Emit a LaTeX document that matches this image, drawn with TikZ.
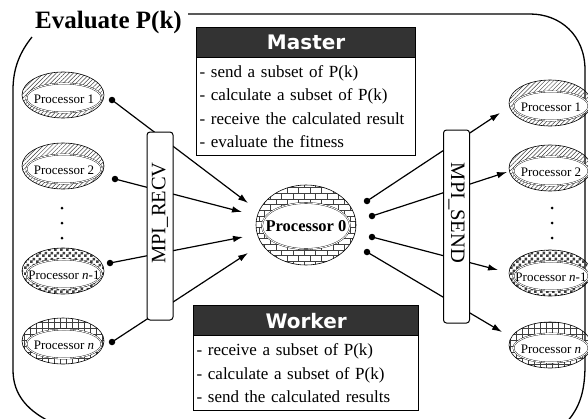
\documentclass[tikz,border=0pt]{standalone}
\usepackage{fontspec}
\setmainfont{Liberation Serif}
\newfontfamily\hdrfont{DejaVu Sans}
\usetikzlibrary{shapes.geometric,patterns,patterns.meta,arrows.meta}
\pgfdeclarepatternformonly{smallchecks}{\pgfpointorigin}{\pgfqpoint{6pt}{6pt}}{\pgfqpoint{6pt}{6pt}}{%
  \pgfpathrectangle{\pgfpointorigin}{\pgfqpoint{3pt}{3pt}}%
  \pgfpathrectangle{\pgfqpoint{3pt}{3pt}}{\pgfqpoint{3pt}{3pt}}%
  \pgfusepath{fill}}
\begin{document}
\begin{tikzpicture}[x=1pt,y=-1pt,
  frameline/.style={line width=1.3pt},
  outerring/.style={ellipse,draw,line width=0.6pt,inner sep=0pt,minimum width=82pt,minimum height=46pt,pattern color=black!75},
  innerring/.style={ellipse,fill=white,draw,line width=0.35pt,double,double distance=0.9pt,inner sep=0pt,minimum width=75pt,minimum height=29pt},
  proclabel/.style={inner sep=0pt,font=\fontsize{13}{13}\selectfont},
  diag/.style={pattern={Lines[angle=45,distance=3pt,line width=0.5pt]}},
  checks/.style={pattern=smallchecks},
  gridpat/.style={preaction={pattern={Lines[angle=90,distance=6pt,line width=0.5pt]},pattern color=black!75},pattern={Lines[angle=0,distance=6pt,line width=0.5pt]}},
  hdr/.style={draw,line width=1.2pt,fill=black!80,text=white,font=\hdrfont\bfseries\fontsize{20}{20}\selectfont,inner sep=0pt,minimum height=30pt},
  body/.style={draw,line width=1.2pt,fill=white,align=left,inner xsep=3pt,inner ysep=0pt,font=\fontsize{17}{23.5}\selectfont},
  mpibox/.style={draw,line width=1pt,fill=white,rounded corners=3pt,inner sep=0pt,minimum width=26pt,minimum height=190pt},
  mpitext/.style={font=\fontsize{20.5}{20.5}\selectfont,inner sep=0pt},
  dotnode/.style={circle,fill=black,inner sep=0pt,minimum size=6.5pt},
  vdot/.style={circle,fill=black,inner sep=0pt,minimum size=3pt},
  arr/.style={line width=1.2pt,-{Latex[length=10pt,width=6.5pt]}}
]
\useasboundingbox (0,0) rectangle (588,418);
\clip (0,0) rectangle (588,418);

% frame
\draw[frameline] (188,14) -- (530,14) .. controls (560,14) and (585,35) .. (585,70) -- (585,365) .. controls (585,395) and (578,410) .. (565,424);
\draw[frameline] (32,37) .. controls (20,52) and (13,68) .. (13,90) -- (13,370) .. controls (13,395) and (28,412) .. (55,424);

% title
\node[font=\bfseries\fontsize{25}{25}\selectfont,inner sep=0pt,anchor=base west] (title) at (35,28) {Evaluate P(k)};

% connectors (behind MPI boxes)
\node[dotnode] (dl1) at (112,100) {};
\node[dotnode] (dl2) at (115,179) {};
\node[dotnode] (dl3) at (110,263) {};
\node[dotnode] (dl4) at (112,342) {};
\coordinate (tl1) at (248,203);
\coordinate (tl2) at (242,212);
\coordinate (tl3) at (243,237);
\coordinate (tl4) at (248,253);
\draw[arr] (dl1.center) -- (tl1);
\draw[arr] (dl2.center) -- (tl2);
\draw[arr] (dl3.center) -- (tl3);
\draw[arr] (dl4.center) -- (tl4);

\node[dotnode] (dr1) at (367,201) {};
\node[dotnode] (dr2) at (372,216) {};
\node[dotnode] (dr3) at (372,237) {};
\node[dotnode] (dr4) at (367,252) {};
\coordinate (tr1) at (500,113);
\coordinate (tr2) at (507,172);
\coordinate (tr3) at (498,270);
\coordinate (tr4) at (502,332);
\draw[arr] (dr1.center) -- (tr1);
\draw[arr] (dr2.center) -- (tr2);
\draw[arr] (dr3.center) -- (tr3);
\draw[arr] (dr4.center) -- (tr4);

% MPI boxes
\node[mpibox,minimum height=188pt] (recv) at (160,226) {};
\node[mpitext,rotate=90] (recvt) at (160,213) {MPI\_RECV};
\node[mpibox,minimum height=193pt] (send) at (456.5,226.5) {};
\node[mpitext,rotate=-90] (sendt) at (456.5,213) {MPI\_SEND};

% left processors
\node[outerring,diag] (pl1) at (63,95) {};
\node[innerring] (pl1i) at (64,98) {};
\node[proclabel] (pl1t) at (64,99) {Processor 1};
\node[outerring,diag] (pl2) at (63,166) {};
\node[innerring] (pl2i) at (64,169) {};
\node[proclabel] (pl2t) at (64,170) {Processor 2};
\node[outerring,checks] (pl3) at (63,271) {};
\node[innerring] (pl3i) at (64,274) {};
\node[proclabel] (pl3t) at (64,275) {Processor \textit{n}-1};
\node[outerring,gridpat] (pl4) at (63,341) {};
\node[innerring] (pl4i) at (64,344) {};
\node[proclabel] (pl4t) at (64,345) {Processor \textit{n}};
\node[vdot] (ld1) at (62,208) {};
\node[vdot] (ld2) at (62,223) {};
\node[vdot] (ld3) at (62,238) {};

% right processors
\node[outerring,diag] (pr1) at (550,103) {};
\node[innerring] (pr1i) at (551,106) {};
\node[proclabel] (pr1t) at (551,107) {Processor 1};
\node[outerring,diag] (pr2) at (550,168) {};
\node[innerring] (pr2i) at (551,171) {};
\node[proclabel] (pr2t) at (551,172) {Processor 2};
\node[outerring,checks] (pr3) at (550,273) {};
\node[innerring] (pr3i) at (551,276) {};
\node[proclabel] (pr3t) at (551,277) {Processor \textit{n}-1};
\node[outerring,gridpat] (pr4) at (550,345) {};
\node[innerring] (pr4i) at (551,348) {};
\node[proclabel] (pr4t) at (551,349) {Processor \textit{n}};
\node[vdot] (rd1) at (552,208) {};
\node[vdot] (rd2) at (552,223) {};
\node[vdot] (rd3) at (552,238) {};

% processor 0
\node[outerring,pattern=bricks,minimum width=100pt,minimum height=80pt] (p0) at (306,225) {};
\node[innerring,minimum width=88pt,minimum height=46pt] (p0i) at (306,226) {};
\node[proclabel,font=\bfseries\fontsize{16.5}{16.5}\selectfont] (p0t) at (306,226) {Processor 0};

% Master box
\node[hdr,minimum width=219pt,anchor=north west] (mh) at (196,27) {Master};
\node[body,text width=213pt,minimum height=98pt,anchor=north west] (mb) at (196,57) {- send a subset of P(k)\\- calculate a subset of P(k)\\- receive the calculated result\\- evaluate the fitness};

% Worker box
\node[hdr,minimum width=225pt,anchor=north west] (wh) at (193,305) {Worker};
\node[body,text width=219pt,minimum height=75pt,anchor=north west] (wb) at (193,335) {- receive a subset of P(k)\\- calculate a subset of P(k)\\- send the calculated results};
\end{tikzpicture}
\end{document}
